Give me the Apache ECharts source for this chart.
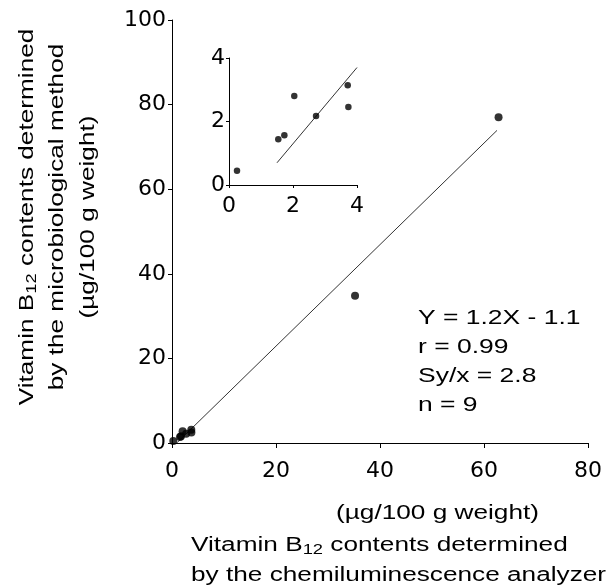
<!DOCTYPE html>
<html>
<head>
<meta charset="utf-8">
<script src="https://cdn.jsdelivr.net/npm/echarts@6/dist/echarts.min.js"></script>
<style>
html,body{margin:0;padding:0;background:#fff;}
#c{width:613px;height:587px;}
</style>
</head>
<body>
<div id="c"></div>
<script>
// Data (chemiluminescence X, microbiological Y), µg/100 g weight
var xValues = [0.25, 1.54, 1.73, 2.04, 2.72, 3.71, 3.73, 35.2, 62.8];
var yValues = [0.45, 1.44, 1.57, 2.80, 2.17, 3.14, 2.46, 34.8, 77.0];
// Regression: Y = 1.2X - 1.1
var slope = 1.2;
var intercept = -1.1;
var mainLineX = [1.0, 62.5];
var insetLineX = [1.5, 4.0];
var mainXTicks = [0, 20, 40, 60, 80];
var mainYTicks = [0, 20, 40, 60, 80, 100];
var insetTicks = [0, 2, 4];
var statsLines = ['Y = 1.2X - 1.1', 'r = 0.99', 'Sy/x = 2.8', 'n = 9'];

var pts = xValues.map(function (x, i) { return [x, yValues[i]]; });
var insetPts = pts.filter(function (p) { return p[0] <= 4 && p[1] <= 4; });
function lineOf(xs) { return xs.map(function (x) { return [x, slope * x + intercept]; }); }

var FONT = 'Liberation Sans, Arial, sans-serif';
var TICKFONT = 'DejaVu Sans, sans-serif';
var chart = echarts.init(document.getElementById('c'));

function axisCommon(ticks, fs, tickLen, margin, gridIndex) {
  return {
    type: 'value', gridIndex: gridIndex,
    min: ticks[0], max: ticks[ticks.length - 1], interval: ticks[1] - ticks[0],
    axisLine: { show: true, onZero: false, lineStyle: { color: '#000', width: 1 } },
    axisTick: { show: true, length: tickLen, lineStyle: { color: '#000' } },
    splitLine: { show: false },
    axisLabel: { color: '#000', fontSize: fs, fontFamily: TICKFONT, margin: margin }
  };
}

var xMain = axisCommon(mainXTicks, 22, 5, 17, 0);
var yMain = axisCommon(mainYTicks, 22, 4, 6, 0);
var xIn = axisCommon(insetTicks, 22, 3, 10, 1);
var yIn = axisCommon(insetTicks, 22, 3, 4, 1);

var rich = {
  a: { fontSize: 20, fontFamily: FONT, color: '#000', lineHeight: 24 },
  s: { fontSize: 14, fontFamily: FONT, color: '#000', lineHeight: 14, verticalAlign: 'bottom' },
  b: { fontSize: 21, fontFamily: FONT, color: '#000', lineHeight: 25 }
};

var graphics = [];
statsLines.forEach(function (t, i) {
  graphics.push({
    type: 'text', x: 418, y: 306 + i * 29, scaleX: 1.26,
    style: { text: '{b|' + t + '}', rich: rich, align: 'left', verticalAlign: 'top' }
  });
});
// X axis title
var xTitles = [
  { text: '{a|(\u00b5g/100 g weight)}', x: 336, y: 501 },
  { text: '{a|Vitamin B}{s|12}{a| contents determined}', x: 191, y: 533 },
  { text: '{a|by the chemiluminescence analyzer}', x: 191, y: 563 }
];
xTitles.forEach(function (t) {
  graphics.push({
    type: 'text', x: t.x, y: t.y, scaleX: 1.31,
    style: { text: t.text, rich: rich, align: 'left', verticalAlign: 'top' }
  });
});
// Y axis title (rotated)
var yTitles = [
  { text: '{a|Vitamin B}{s|12}{a| contents determined}', x: 27 },
  { text: '{a|by the microbiological method}', x: 57 },
  { text: '{a|(\u00b5g/100 g weight)}', x: 88 }
];
yTitles.forEach(function (t) {
  graphics.push({
    type: 'text', x: t.x, y: 217, rotation: Math.PI / 2, scaleX: 1.31,
    style: { text: t.text, rich: rich, align: 'center', verticalAlign: 'middle' }
  });
});

chart.setOption({
  animation: false,
  backgroundColor: '#fff',
  grid: [
    { left: 172, right: 25, top: 20, bottom: 144 },
    { left: 229, width: 128, top: 58, height: 127 }
  ],
  xAxis: [xMain, xIn],
  yAxis: [yMain, yIn],
  series: [
    { type: 'line', xAxisIndex: 0, yAxisIndex: 0, data: lineOf(mainLineX), showSymbol: false,
      lineStyle: { color: '#333', width: 1 }, z: 2 },
    { type: 'scatter', xAxisIndex: 0, yAxisIndex: 0, data: pts, symbolSize: 8,
      itemStyle: { color: '#000' }, z: 3 },
    { type: 'line', xAxisIndex: 1, yAxisIndex: 1, data: lineOf(insetLineX), showSymbol: false,
      lineStyle: { color: '#333', width: 1 }, z: 2 },
    { type: 'scatter', xAxisIndex: 1, yAxisIndex: 1, data: insetPts, symbolSize: 6.5,
      itemStyle: { color: '#000' }, z: 3 }
  ],
  graphic: graphics
});
</script>
</body>
</html>
